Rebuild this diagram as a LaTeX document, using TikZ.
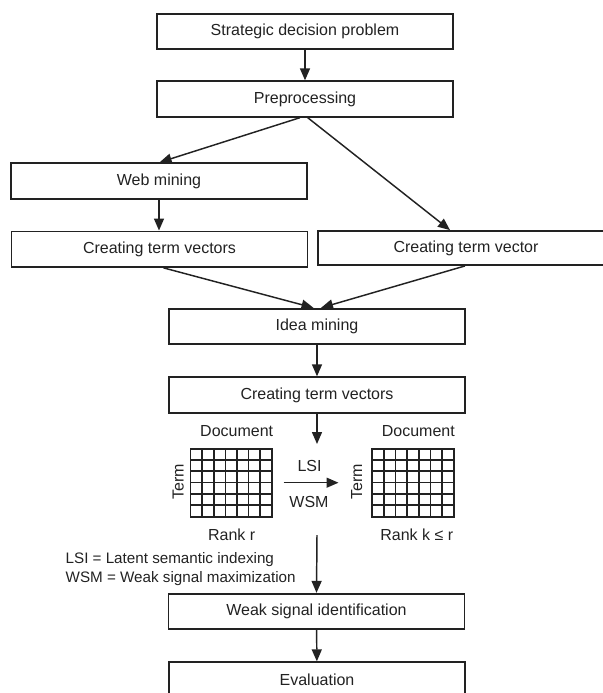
\documentclass[tikz,border=0pt]{standalone}
\usepackage{fontspec}
\setmainfont{Liberation Sans}
\usetikzlibrary{arrows.meta,calc}
\definecolor{ink}{RGB}{34,34,34}
\begin{document}
\begin{tikzpicture}[x=0.75pt,y=-0.75pt,
  every node/.style={text=ink, font=\fontsize{12}{14}\selectfont},
  procbox/.style={draw=ink, line width=1.4pt, minimum width=222pt, minimum height=26.6pt, inner sep=0pt, fill=white},
  matbox/.style={draw=ink, line width=1.4pt, minimum width=61pt, minimum height=51pt, inner sep=0pt, outer sep=0pt},
  conn/.style={draw=ink, line width=1.1pt, -{Triangle[length=9pt,width=7.5pt]}},
  gridline/.style={draw=ink, line width=1.2pt},
  legend/.style={anchor=west, inner sep=0pt, font=\fontsize{11.4}{14}\selectfont}]
\useasboundingbox (0,0) rectangle (603,693);
\clip (0,0) rectangle (603,693);

% process boxes
\node[procbox] (strat) at (305,31.5) {Strategic decision problem};
\node[procbox] (prep) at (305,99) {Preprocessing};
\node[procbox] (web) at (159,181) {Web mining};
\node[procbox] (ctvL) at (159.5,249.2) {Creating term vectors};
\node[procbox, minimum height=25.5pt] (ctvR) at (466,248) {Creating term vector};
\node[procbox] (idea) at (317,326.5) {Idea mining};
\node[procbox] (ctvM) at (317,395) {Creating term vectors};
\node[procbox] (weak) at (316.5,611.5) {Weak signal identification};
\node[procbox] (eval) at (317,680) {Evaluation};

% matrices
\node[matbox] (m1) at (231.2,482.6) {};
\node[matbox] (m2) at (413.0,482.6) {};
\foreach \m in {m1,m2}{
  \foreach \i in {1,...,6}
    \draw[gridline] ($(\m.north west)!\i/7!(\m.north east)$) -- ($(\m.south west)!\i/7!(\m.south east)$);
  \foreach \j in {1,...,5}
    \draw[gridline] ($(\m.north west)!\j/6!(\m.south west)$) -- ($(\m.north east)!\j/6!(\m.south east)$);
}

% labels
\node (doc1) at (236.7,431.5) {Document};
\node (doc2) at (418.3,431.5) {Document};
\node[rotate=90] (term1) at (178.3,482) {Term};
\node[rotate=90] (term2) at (356.7,482) {Term};
\node (rank1) at (231.7,535) {Rank r};
\node (rank2) at (416.7,535) {Rank k ≤ r};
\node (lsi) at (309.6,465.7) {LSI};
\node (wsm) at (309,501.7) {WSM};
\node[legend] (leg1) at (65.4,559.3) {LSI = Latent semantic indexing};
\node[legend] (leg2) at (65.4,578.3) {WSM = Weak signal maximization};

% free ends
\coordinate (lsiA) at (283.5,482.7);
\coordinate (lsiB) at (338.5,482.7);
\coordinate (mtop) at (317,444);
\coordinate (mbot) at (317,535);

% connectors
\draw[conn] (strat) -- (prep);
\draw[conn] ($(prep.south)+(-5,0)$) -- ($(web.north)+(0.6,0)$);
\draw[conn] ($(prep.south)+(2.7,0)$) -- ($(ctvR.north)+(-16,0)$);
\draw[conn] (web.south) -- (web.south |- ctvL.north);
\draw[conn] ($(ctvL.south)+(4,0)$) -- ($(idea.north)+(-3.5,0)$);
\draw[conn] ($(ctvR.south)+(-1,0)$) -- ($(idea.north)+(4,0)$);
\draw[conn] (idea) -- (ctvM);
\draw[conn] (ctvM.south) -- (mtop);
\draw[conn] (lsiA) -- (lsiB);
\draw[conn] (mbot) -- (weak.north);
\draw[conn] (weak) -- (eval);
\end{tikzpicture}
\end{document}
